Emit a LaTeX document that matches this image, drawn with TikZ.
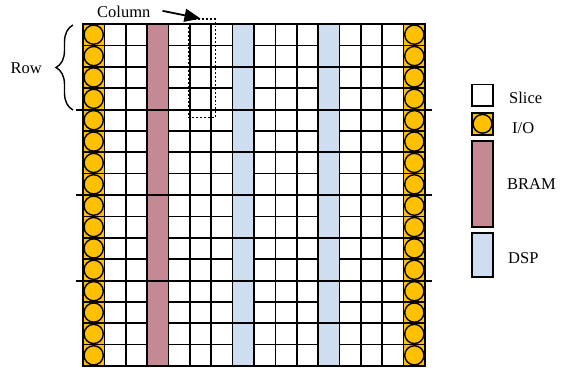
\documentclass[tikz,border=0pt]{standalone}
\usepackage{fontspec}
\setmainfont{Liberation Serif}
\usetikzlibrary{arrows.meta,decorations.pathreplacing}
\definecolor{iocol}{HTML}{FFC000}
\definecolor{bramcol}{HTML}{C48993}
\definecolor{dspcol}{HTML}{CFDDF0}
\tikzset{
  cellbox/.style={draw=black,line width=1.7pt,fill=white},
  iobox/.style={draw=black,line width=1.7pt,fill=iocol},
  iodot/.style={draw=black,line width=1.4pt,fill=iocol},
  brambox/.style={draw=black,line width=1.7pt,fill=bramcol},
  dspbox/.style={draw=black,line width=1.7pt,fill=dspcol},
  majorline/.style={draw=black,line width=2pt},
  legbox/.style={draw=black,line width=1.8pt,minimum width=21.6pt,inner sep=0pt,outer sep=0pt},
  lbl/.style={font=\fontsize{16.5}{18}\selectfont,inner sep=0pt,anchor=base west},
}
\begin{document}
\begin{tikzpicture}[x=1pt,y=-1pt]
\useasboundingbox (0,0) rectangle (561,369);
\def\cs{21.375}
% slices
\foreach \c in {1,2,4,5,6,8,9,10,12,13,14}{
  \foreach \r in {0,...,15}{
    \path[cellbox] ({83+\c*\cs},{24+\r*\cs}) rectangle ++(\cs,\cs);
  }
}
% IO columns
\foreach \c in {0,15}{
  \foreach \r in {0,...,15}{
    \path[iobox] ({83+\c*\cs},{24+\r*\cs}) rectangle ++(\cs,\cs);
    \path[iodot] ({83+(\c+0.5)*\cs},{24+(\r+0.5)*\cs}) circle[radius=9.6];
  }
}
% BRAM column
\foreach \r in {0,4,8,12}{
  \path[brambox] ({83+3*\cs},{24+\r*\cs}) rectangle ++(\cs,{4*\cs});
}
% DSP columns
\foreach \c in {7,11}{
  \foreach \r in {0,2,...,14}{
    \path[dspbox] ({83+\c*\cs},{24+\r*\cs}) rectangle ++(\cs,{2*\cs});
  }
}
% major row lines
\foreach \r in {4,8,12}{
  \draw[majorline] (76,{24+\r*\cs}) -- (432,{24+\r*\cs});
}
% column marker
\node[draw=black,dotted,line width=1.9pt,minimum width=27pt,minimum height=98pt,inner sep=0pt,anchor=north west] (colmark) at (187.5,18.5) {};
\node[lbl] (coltext) at (97,18) {Column};
\path (coltext.east) ++(12,-1.5) coordinate (arst);
\path (colmark.north west) ++(13,0) coordinate (arend);
\draw[line width=1.8pt,-{Triangle[length=16pt,width=13pt]}] (arst) -- (arend);
% row marker
\node[lbl,anchor=base east] (rowtext) at (42,73) {Row};
\draw[line width=1.4pt,decorate,decoration={brace,amplitude=17pt}] (73,110) -- (73,25);
% legend
\node[legbox,minimum height=21.6pt,fill=white,anchor=north west] (lslice) at (471.7,84.4) {};
\node[legbox,minimum height=21.6pt,fill=iocol,anchor=north west] (lio) at (471.7,113) {};
\path[iodot] (lio.center) circle[radius=9.4];
\node[legbox,minimum height=85.5pt,fill=bramcol,anchor=north west] (lbram) at (471.7,141.2) {};
\node[legbox,minimum height=43.5pt,fill=dspcol,anchor=north west] (ldsp) at (471.7,233.2) {};
\node[lbl] (tslice) at (509,103) {Slice};
\node[lbl] (tio) at (512,133) {I/O};
\node[lbl] (tbram) at (507,189) {BRAM};
\node[lbl] (tdsp) at (508,263) {DSP};
\end{tikzpicture}
\end{document}
